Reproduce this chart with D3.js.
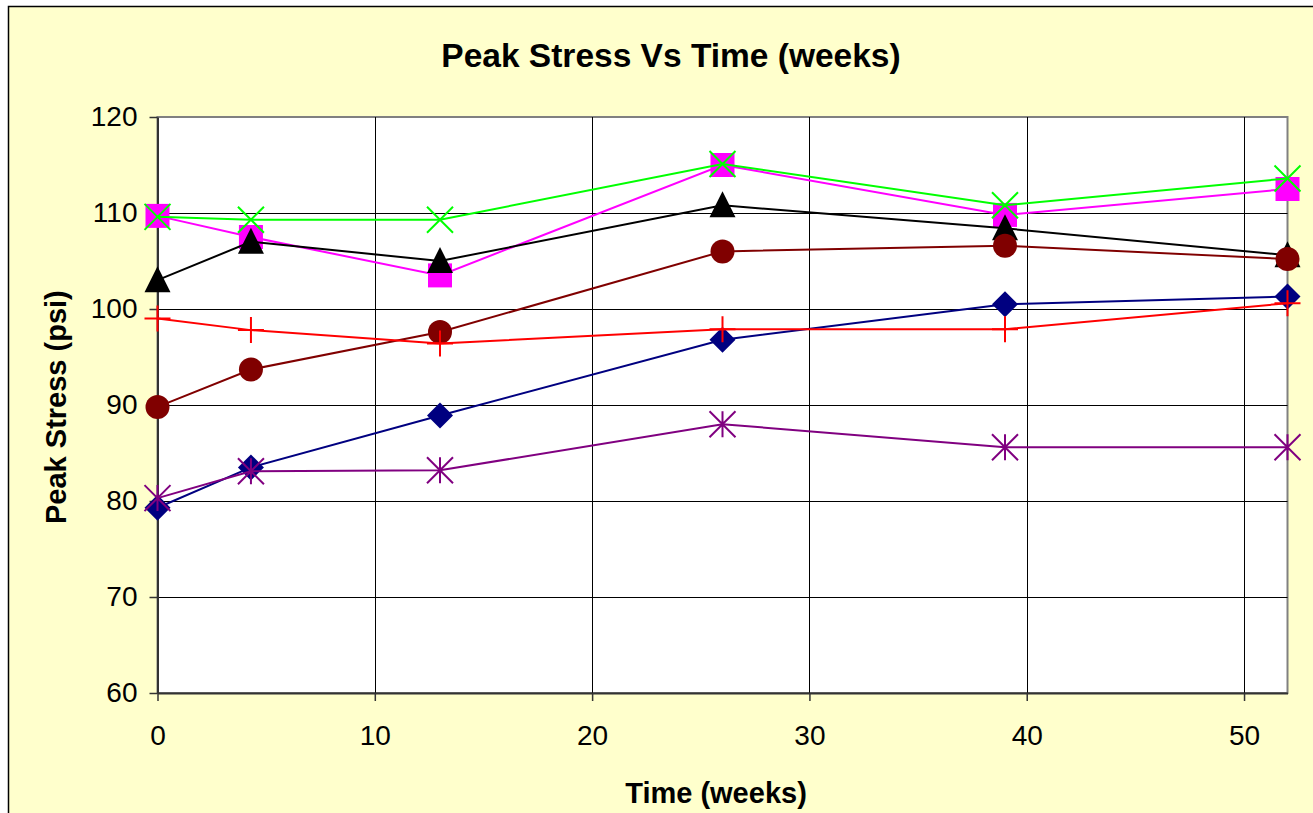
<!doctype html>
<html>
<head>
<script src="https://d3js.org/d3.v7.min.js"></script>
<style>
body { margin: 0; background: #fff; }
text { font-family: "Liberation Sans", Arial, sans-serif; }
</style>
</head>
<body>
<svg width="1313" height="813"></svg>
<script>
// weeks
var weeks = [0, 4.3, 13, 26, 39, 52];

var diamondVals = [79.3, 83.5, 88.9, 96.8, 100.5, 101.3];
var plusVals = [99.0, 97.8, 96.4, 97.9, 97.9, 100.6];
var circleVals = [89.8, 93.7, 97.6, 106.0, 106.6, 105.2];
var triangleVals = [103.0, 107.0, 105.0, 110.8, 108.4, 105.6];
var squareVals = [109.7, 107.5, 103.5, 115.0, 109.8, 112.5];
var crossVals = [109.6, 109.3, 109.3, 115.1, 110.8, 113.6];
var starVals = [80.3, 83.1, 83.2, 88.0, 85.6, 85.6];

var xTicks = [0, 10, 20, 30, 40, 50];
var yTicks = [60, 70, 80, 90, 100, 110, 120];

var svg = d3.select("svg");

// chart background + border
svg.append("rect")
  .attr("x", 8.5).attr("y", 6.5)
  .attr("width", 1320).attr("height", 820)
  .attr("fill", "#FFFFCC")
  .attr("stroke", "#000").attr("stroke-width", 1.5);

var pLeft = 157.5, pTop = 117, pRight = 1287.5, pBottom = 693;

var x = d3.scaleLinear().domain([0, 52]).range([pLeft, pRight]);
var y = d3.scaleLinear().domain([60, 120]).range([pBottom, pTop]);

svg.append("rect")
  .attr("x", pLeft).attr("y", pTop)
  .attr("width", pRight - pLeft).attr("height", pBottom - pTop)
  .attr("fill", "#fff")
  .attr("stroke", "#808080").attr("stroke-width", 2);

// grid
svg.append("g").selectAll("line").data(yTicks.slice(1, -1)).enter().append("line")
  .attr("x1", pLeft).attr("x2", pRight)
  .attr("y1", d => Math.round(y(d)) + 0.5).attr("y2", d => Math.round(y(d)) + 0.5)
  .attr("stroke", "#000").attr("stroke-width", 1);
svg.append("g").selectAll("line").data(xTicks.slice(1)).enter().append("line")
  .attr("x1", d => Math.round(x(d)) + 0.5).attr("x2", d => Math.round(x(d)) + 0.5)
  .attr("y1", pTop).attr("y2", pBottom)
  .attr("stroke", "#000").attr("stroke-width", 1);

// axes
var yAxis = svg.append("g")
  .attr("transform", "translate(" + pLeft + ",0)")
  .call(d3.axisLeft(y).tickValues(yTicks).tickSizeOuter(0).tickSizeInner(8).tickPadding(12));
var xAxis = svg.append("g")
  .attr("transform", "translate(0," + pBottom + ")")
  .call(d3.axisBottom(x).tickValues(xTicks).tickSizeOuter(0).tickSizeInner(8).tickPadding(24));
[yAxis, xAxis].forEach(function (a) {
  a.select(".domain").attr("stroke", "#333").attr("stroke-width", 2);
  a.selectAll(".tick line").attr("stroke", "#333").attr("stroke-width", 1.5);
  a.selectAll(".tick text").attr("font-size", 28).attr("fill", "#000")
    .style("font-family", "Liberation Sans, Arial, sans-serif");
});

// titles
svg.append("text")
  .attr("x", 671).attr("y", 67)
  .attr("text-anchor", "middle")
  .attr("font-size", 33.5).attr("font-weight", "bold")
  .text("Peak Stress Vs Time (weeks)");

svg.append("text")
  .attr("x", 716).attr("y", 803)
  .attr("text-anchor", "middle")
  .attr("font-size", 29).attr("font-weight", "bold")
  .text("Time (weeks)");

svg.append("text")
  .attr("transform", "translate(66,524)rotate(-90)")
  .attr("text-anchor", "start")
  .attr("font-size", 29).attr("font-weight", "bold")
  .text("Peak Stress (psi)");

// drawing order follows the overlaps seen in the original
var series = [
  { vals: squareVals, color: "#FF00FF", marker: "square" },
  { vals: triangleVals, color: "#000000", marker: "triangle" },
  { vals: circleVals, color: "#800000", marker: "circle" },
  { vals: diamondVals, color: "#000080", marker: "diamond" },
  { vals: plusVals, color: "#FF0000", marker: "plus" },
  { vals: starVals, color: "#800080", marker: "star" },
  { vals: crossVals, color: "#00FF00", marker: "cross" }
];

var line = d3.line().x((d, i) => x(weeks[i])).y(d => y(d));

series.forEach(function (s) {
  var g = svg.append("g");
  g.append("path").datum(s.vals)
    .attr("d", line)
    .attr("fill", "none").attr("stroke", s.color).attr("stroke-width", 2);

  var pts = g.selectAll("g.pt").data(s.vals).enter().append("g")
    .attr("transform", (d, i) => "translate(" + x(weeks[i]) + "," + y(d) + ")");

  if (s.marker === "diamond") {
    pts.append("path").attr("d", "M0,-13L13,0L0,13L-13,0Z").attr("fill", s.color);
  } else if (s.marker === "square") {
    pts.append("rect").attr("x", -12).attr("y", -12).attr("width", 24).attr("height", 24).attr("fill", s.color);
  } else if (s.marker === "circle") {
    pts.append("circle").attr("r", 12).attr("fill", s.color);
  } else if (s.marker === "triangle") {
    pts.append("path").attr("d", "M0,-14L13,12L-13,12Z").attr("fill", s.color);
  } else if (s.marker === "cross") {
    pts.append("path").attr("d", "M-13,-13L13,13M-13,13L13,-13")
      .attr("stroke", s.color).attr("stroke-width", 2);
  } else if (s.marker === "plus") {
    pts.append("path").attr("d", "M-13,0L13,0M0,-13L0,13")
      .attr("stroke", s.color).attr("stroke-width", 2);
  } else if (s.marker === "star") {
    pts.append("path").attr("d", "M-13,-13L13,13M-13,13L13,-13M0,-13L0,13")
      .attr("stroke", s.color).attr("stroke-width", 2);
  }
});
</script>
</body>
</html>
